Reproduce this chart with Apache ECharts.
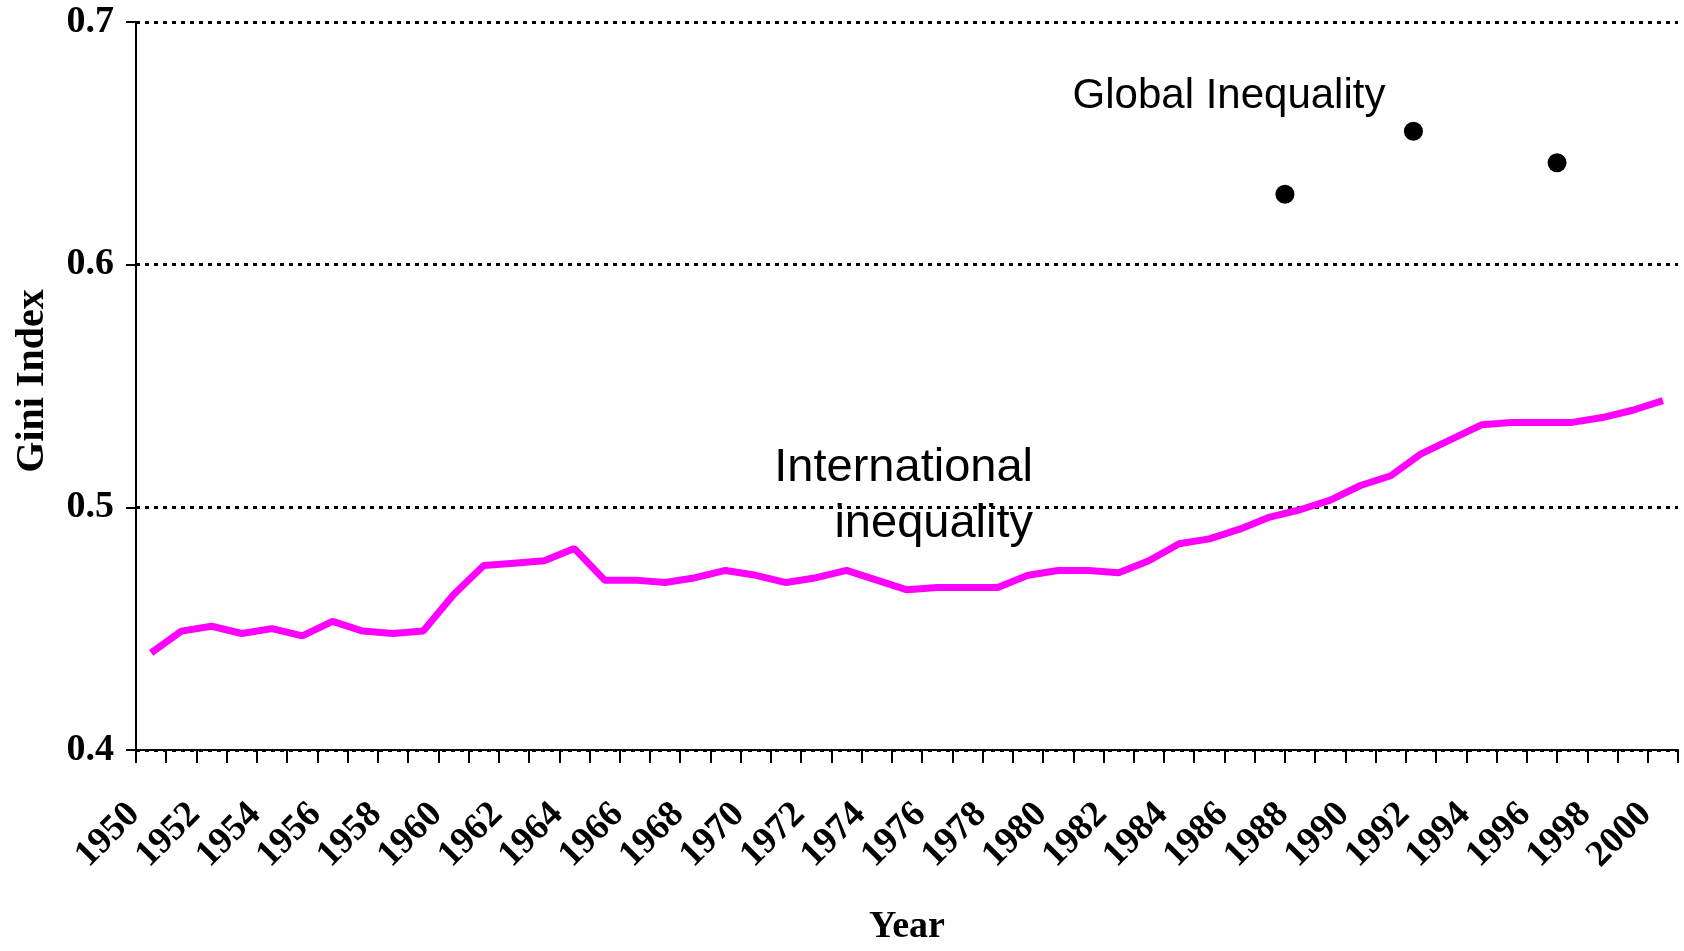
<!DOCTYPE html>
<html lang="en">
<head>
    <meta charset="utf-8">
    <title>Gini Index</title>
    <script src="https://cdn.jsdelivr.net/npm/echarts@6.0.0/dist/echarts.min.js"></script>
    <style>
        html, body { margin: 0; padding: 0; background: #fff; }
        #chart { width: 1684px; height: 951px; }
    </style>
</head>
<body>
    <div id="chart"></div>
    <script type="text/javascript">

    // years on the category axis
    var years = [];
    for (var y = 1950; y <= 2000; y++) years.push(String(y));

    // international inequality (Gini)
    var international = [
        0.440, 0.449, 0.451, 0.448, 0.450, 0.447, 0.453, 0.449, 0.448, 0.449,
        0.464, 0.476, 0.477, 0.478, 0.483, 0.470, 0.470, 0.469, 0.471, 0.474,
        0.472, 0.469, 0.471, 0.474, 0.470, 0.466, 0.467, 0.467, 0.467, 0.472,
        0.474, 0.474, 0.473, 0.478, 0.485, 0.487, 0.491, 0.496, 0.499, 0.503,
        0.509, 0.513, 0.522, 0.528, 0.534, 0.535, 0.535, 0.535, 0.537, 0.540,
        0.544
    ];

    // global inequality points (x position in years, as drawn)
    var globalYears = [1987.5, 1991.75, 1996.5];
    var globalGini = [0.629, 0.655, 0.642];

    var yTicks = { min: 0.4, max: 0.7, step: 0.1 };

    var serif = '"Liberation Serif", "Times New Roman", serif';
    var sans = '"Liberation Sans", Arial, sans-serif';

    var chart = echarts.init(document.getElementById('chart'));
    chart.setOption({
        backgroundColor: '#fff',
        animation: false,
        grid: { left: 136, right: 6, top: 22, bottom: 201, outerBoundsMode: 'none' },
        xAxis: [{
            type: 'category',
            data: years,
            boundaryGap: true,
            name: 'Year',
            nameLocation: 'middle',
            nameGap: 158,
            nameTextStyle: { fontFamily: serif, fontWeight: 'bold', fontSize: 38, color: '#000' },
            axisLine: { lineStyle: { color: '#000', width: 2 } },
            axisTick: { show: true, interval: 0, length: 13, lineStyle: { color: '#000', width: 2 } },
            axisLabel: {
                interval: 1, rotate: 45, margin: 42, padding: [0, 24, 0, 0],
                fontFamily: serif, fontWeight: 'bold', fontSize: 37, color: '#000'
            },
            splitLine: { show: false }
        }, {
            // hidden value axis for the global points (same span as the categories)
            type: 'value',
            min: 1949.5,
            max: 2000.5,
            show: false
        }],
        yAxis: {
            type: 'value',
            min: yTicks.min,
            max: yTicks.max,
            interval: yTicks.step,
            name: 'Gini Index',
            nameLocation: 'middle',
            nameGap: 83,
            nameTextStyle: { fontFamily: serif, fontWeight: 'bold', fontSize: 40, color: '#000', padding: [0, 0, 0, 10] },
            axisLine: { show: true, lineStyle: { color: '#000', width: 2 } },
            axisTick: { show: true, length: 10, lineStyle: { color: '#000', width: 2 } },
            axisLabel: {
                margin: 22, fontFamily: serif, fontWeight: 'bold', fontSize: 38, color: '#000',
                formatter: function (v) { return v.toFixed(1); }
            },
            splitLine: { show: true, lineStyle: { color: '#000', width: 3, type: [4, 5] } }
        },
        series: [{
            name: 'International inequality',
            type: 'line',
            data: international,
            symbol: 'none',
            lineStyle: { color: '#ff00ff', width: 7 },
            z: 3
        }, {
            name: 'Global Inequality',
            type: 'scatter',
            xAxisIndex: 1,
            data: globalYears.map(function (x, i) { return [x, globalGini[i]]; }),
            symbol: 'circle',
            symbolSize: 19,
            itemStyle: { color: '#000', opacity: 1 },
            z: 4
        }],
        graphic: [{
            type: 'text',
            x: 1229,
            y: 96,
            style: { text: 'Global Inequality', fontFamily: sans, fontSize: 42, fill: '#000', align: 'center', verticalAlign: 'middle' }
        }, {
            type: 'text',
            x: 1033,
            y: 468,
            style: { text: 'International', fontFamily: sans, fontSize: 47, fill: '#000', align: 'right', verticalAlign: 'middle' }
        }, {
            type: 'text',
            x: 1033,
            y: 524,
            style: { text: 'inequality', fontFamily: sans, fontSize: 47, fill: '#000', align: 'right', verticalAlign: 'middle' }
        }]
    });
    </script>
</body>
</html>
